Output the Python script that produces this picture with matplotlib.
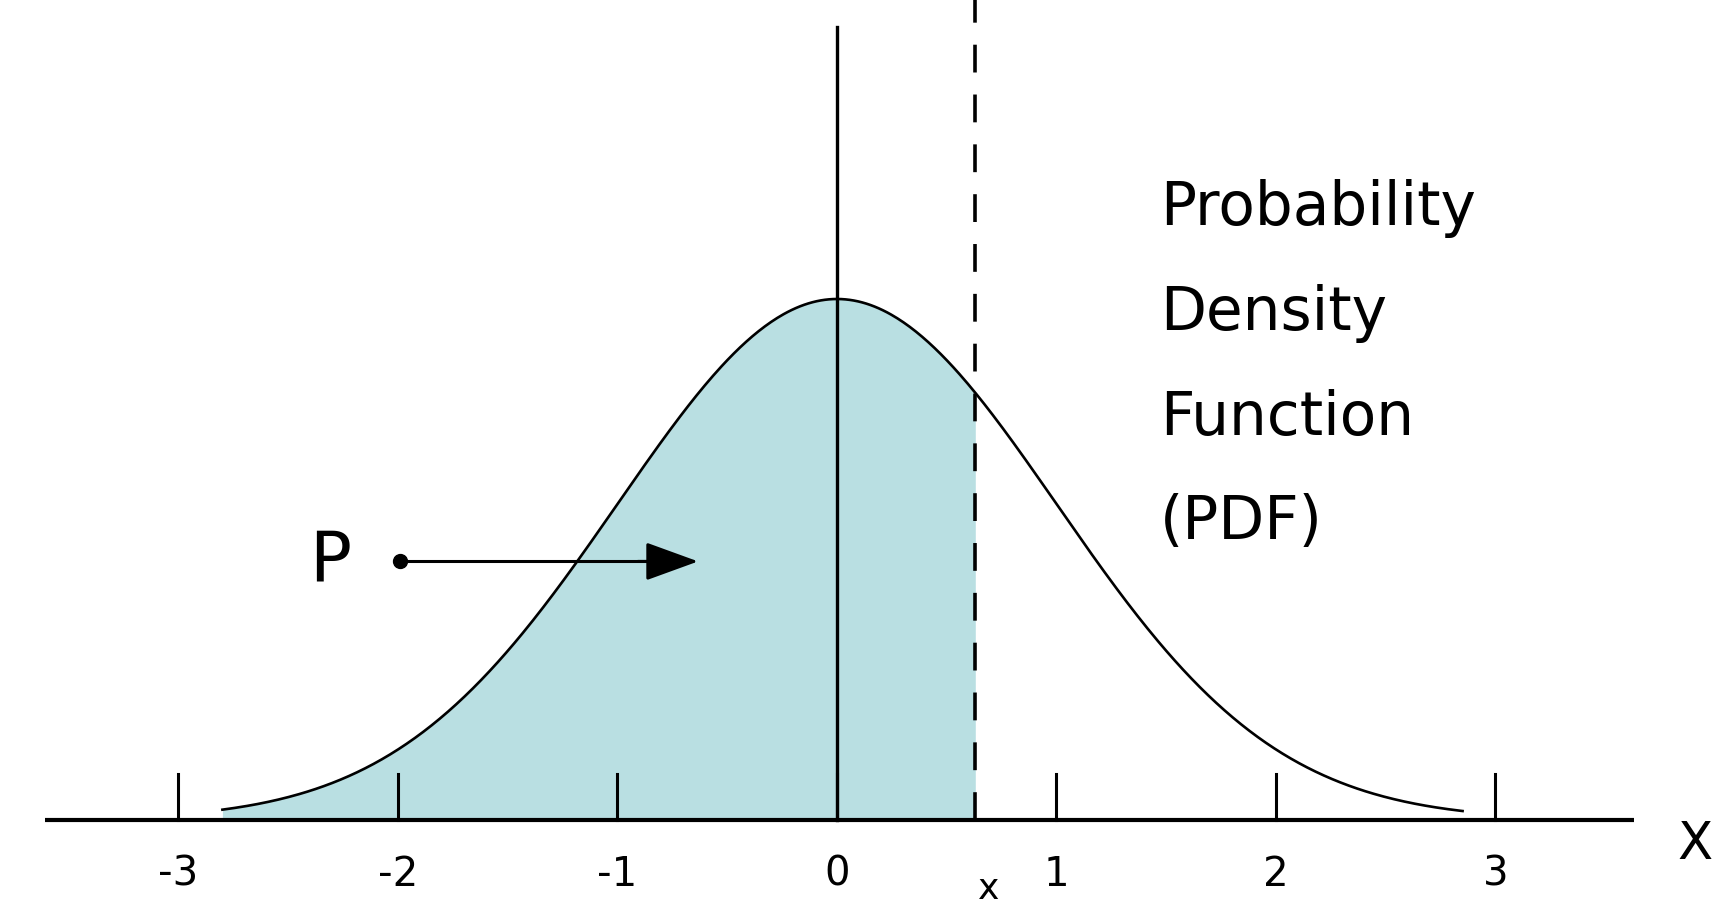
import numpy as np
import matplotlib
matplotlib.use("Agg")
import matplotlib.pyplot as plt

# Standard normal distribution and the cut-off value x
mu = 0.0
sigma = 1.0
x_cut = 0.63
curve_range = (-2.8, 2.85)
tick_values = [-3, -2, -1, 0, 1, 2, 3]
tick_labels = ["-3", "-2", "-1", "0", "1", "2", "3"]
pdf_text = ["Probability", "Density", "Function", "(PDF)"]
arrow_start = (-1.99, 0.198)
arrow_end = (-0.62, 0.198)

fill_color = "#b9dfe2"

W, H, DPI = 1722, 908, 100
fig = plt.figure(figsize=(W / DPI, H / DPI), dpi=DPI)
ax = fig.add_axes([0, 0, 1, 1])
ax.set_axis_off()

peak = 1.0 / (sigma * np.sqrt(2 * np.pi))
px = 219.5                 # pixels per unit on x
s = peak / 521.0           # data units per pixel on y
x0_px, y0_px = 837, 820
ax.set_xlim(-x0_px / px, (W - x0_px) / px)
ax.set_ylim(-(H - y0_px) * s, y0_px * s)


def pdf(x):
    return np.exp(-0.5 * ((x - mu) / sigma) ** 2) / (sigma * np.sqrt(2 * np.pi))


xs = np.linspace(curve_range[0], curve_range[1], 600)
ys = pdf(xs)

# shaded area up to x
mask = xs <= x_cut
xf = np.append(xs[mask], x_cut)
ax.fill_between(xf, 0, pdf(xf), color=fill_color, lw=0, zorder=1)

# density curve
ax.plot(xs, ys, color="black", lw=1.9, zorder=3)

# horizontal axis
ax.plot([-3.61, 3.63], [0, 0], color="black", lw=3.0, solid_capstyle="butt", zorder=4)

# tick marks and labels
tick_h = 46 * s
for v, lab in zip(tick_values, tick_labels):
    ax.plot([v, v], [0, tick_h], color="black", lw=2.2, zorder=4)
    ax.text(v, -55 * s, lab, ha="center", va="center", fontsize=29,
            family="DejaVu Sans", zorder=5)

# vertical line at the mean
ax.plot([mu, mu], [0, 793 * s], color="black", lw=2.4, zorder=4)

# dashed line at x
ax.plot([x_cut, x_cut], [0, 830 * s], color="black", lw=2.6,
        dashes=(7.7, 6.1), zorder=4)
ax.text(x_cut + 0.06, -69 * s, "x", ha="center", va="center", fontsize=26,
        family="DejaVu Sans", zorder=5)
ax.text(3.91, -25 * s, "X", ha="center", va="center", fontsize=37,
        family="DejaVu Sans", zorder=5)

# label block
for i, line in enumerate(pdf_text):
    ax.text(1.47, (y0_px - 209 - i * 104.5) * s, line, ha="left", va="center",
            fontsize=43, family="DejaVu Sans", zorder=5)

# P arrow
ax.text(-2.31, arrow_start[1], "P", ha="center", va="center", fontsize=50,
        family="DejaVu Sans", zorder=5)
ax.plot([arrow_start[0], arrow_end[0] - 0.1], [arrow_start[1], arrow_end[1]],
        color="black", lw=2.2, zorder=5)
ax.plot([arrow_start[0]], [arrow_start[1]], "o", color="black", ms=10, zorder=6)
ax.annotate("", xy=arrow_end, xytext=(arrow_end[0] - 0.3, arrow_end[1]),
            arrowprops=dict(arrowstyle="-|>,head_length=1.1,head_width=0.4",
                            color="black", lw=2.2, mutation_scale=30),
            zorder=6)

fig.savefig("out.png", dpi=DPI, facecolor="white")
